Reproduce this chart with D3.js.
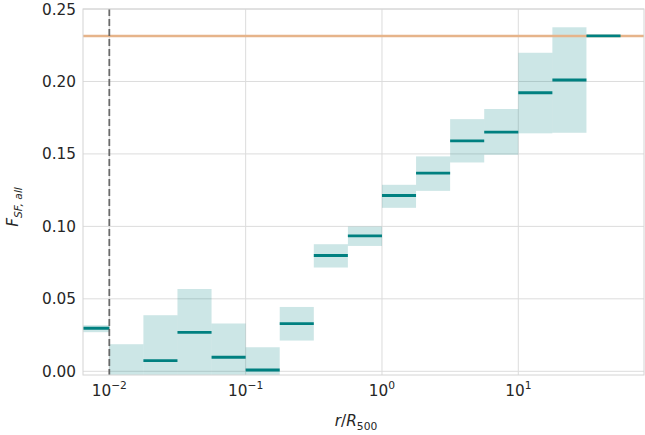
<!DOCTYPE html>
<html>
<head>
<meta charset="utf-8">
<script src="https://cdn.jsdelivr.net/npm/d3@7"></script>
<style>
  body { margin: 0; background: #fff; }
  text { font-family: "DejaVu Sans", sans-serif; fill: #262626; }
</style>
</head>
<body>
<div id="chart"></div>
<script>
// Bin edges in r/R500 (quarter-decade bins)
const binEdges = [0.005623, 0.01, 0.01778, 0.03162, 0.05623, 0.1, 0.1778, 0.3162,
                  0.5623, 1, 1.778, 3.162, 5.623, 10, 17.78, 31.62, 56.23];
// Median value per bin (null = no line drawn)
const medians = [0.0297, null, 0.0074, 0.0269, 0.0097, 0.0009, 0.0329, 0.0799, 0.0934,
                 0.1213, 0.1367, 0.159, 0.165, 0.1922, 0.201, 0.2314];
// Lower / upper bounds of the shaded band
const lowers = [0.027, -0.01, -0.01, -0.01, -0.01, -0.01, 0.0212, 0.0716, 0.0865,
                0.1128, 0.1245, 0.1441, 0.1494, 0.1642, 0.1646, 0.2314];
const uppers = [0.0318, 0.0187, 0.0387, 0.0568, 0.033, 0.0166, 0.0444, 0.0877, 0.0999,
                0.1287, 0.1483, 0.174, 0.181, 0.2198, 0.2374, 0.2314];
const referenceLevel = 0.2314;
const dashedX = 0.01;
const xTicks = [-2, -1, 0, 1];
const yTicks = [0, 0.05, 0.10, 0.15, 0.20, 0.25];

const width = 645, height = 435;
const margin = { top: 9, right: 1, bottom: 60, left: 83 };

const xScale = d3.scaleLog()
    .domain([Math.pow(10, -2.193), Math.pow(10, 1.922)])
    .range([margin.left, width - margin.right]);

const yScale = d3.scaleLinear()
    .domain([-0.00255, 0.25])
    .range([height - margin.bottom, margin.top]);

const svg = d3.select("#chart").append("svg")
    .attr("width", width)
    .attr("height", height);

svg.append("defs").append("clipPath").attr("id", "clip")
  .append("rect")
    .attr("x", margin.left).attr("y", margin.top)
    .attr("width", width - margin.left - margin.right)
    .attr("height", height - margin.top - margin.bottom);

// Grid lines
const grid = svg.append("g").attr("stroke", "#dcdcdc").attr("stroke-width", 1);
grid.selectAll(".gy").data(yTicks).join("line")
    .attr("x1", margin.left).attr("x2", width - margin.right)
    .attr("y1", d => yScale(d)).attr("y2", d => yScale(d));
grid.selectAll(".gx").data(xTicks).join("line")
    .attr("x1", d => xScale(Math.pow(10, d))).attr("x2", d => xScale(Math.pow(10, d)))
    .attr("y1", margin.top).attr("y2", height - margin.bottom);

const bins = medians.map((m, i) => ({
    x0: binEdges[i], x1: binEdges[i + 1], med: m, lo: lowers[i], hi: uppers[i]
}));

const plot = svg.append("g").attr("clip-path", "url(#clip)");

// Shaded bands
plot.selectAll(".band").data(bins.filter(d => d.hi > d.lo)).join("rect")
    .attr("x", d => xScale(d.x0))
    .attr("width", d => xScale(d.x1) - xScale(d.x0))
    .attr("y", d => yScale(d.hi))
    .attr("height", d => yScale(d.lo) - yScale(d.hi))
    .attr("fill", "rgba(0,128,128,0.2)");

// Reference level
plot.append("line")
    .attr("x1", margin.left).attr("x2", width - margin.right)
    .attr("y1", yScale(referenceLevel)).attr("y2", yScale(referenceLevel))
    .attr("stroke", "#e6b48a").attr("stroke-width", 2.4);

// Median lines
plot.selectAll(".med").data(bins.filter(d => d.med !== null)).join("line")
    .attr("x1", d => xScale(d.x0)).attr("x2", d => xScale(d.x1))
    .attr("y1", d => yScale(d.med)).attr("y2", d => yScale(d.med))
    .attr("stroke", "#008080").attr("stroke-width", 2.8);

// Dashed vertical line
plot.append("line")
    .attr("x1", xScale(dashedX)).attr("x2", xScale(dashedX))
    .attr("y1", margin.top).attr("y2", height - margin.bottom)
    .attr("stroke", "#555").attr("stroke-opacity", 0.85)
    .attr("stroke-width", 1.8).attr("stroke-dasharray", "7,3");

// Frame
svg.append("rect")
    .attr("x", margin.left).attr("y", margin.top)
    .attr("width", width - margin.left - margin.right)
    .attr("height", height - margin.top - margin.bottom)
    .attr("fill", "none").attr("stroke", "#d4d4d4").attr("stroke-width", 1);

// Y tick labels
svg.selectAll(".yl").data(yTicks).join("text")
    .attr("x", 76).attr("y", d => yScale(d)).attr("dy", "0.36em")
    .attr("text-anchor", "end").style("font-size", "15.3px")
    .text(d3.format(".2f"));

// X tick labels (10^n)
const xl = svg.selectAll(".xl").data(xTicks).join("text")
    .attr("x", d => xScale(Math.pow(10, d)))
    .attr("y", 396).attr("text-anchor", "middle").style("font-size", "15.3px");
xl.append("tspan").text("10");
xl.append("tspan").attr("dy", -7).style("font-size", "10.7px")
    .text(d => String(d).replace("-", "\u2212"));

// Axis labels
const xlab = svg.append("text").attr("x", 356).attr("y", 426)
    .attr("text-anchor", "middle").style("font-size", "15.3px");
xlab.append("tspan").style("font-style", "italic").text("r");
xlab.append("tspan").text("/");
xlab.append("tspan").style("font-style", "italic").text("R");
xlab.append("tspan").attr("dy", 4).style("font-size", "10.7px").text("500");

const ylab = svg.append("text")
    .attr("transform", "translate(18,207) rotate(-90)")
    .attr("text-anchor", "middle").style("font-size", "15.3px");
ylab.append("tspan").style("font-style", "italic").text("F");
ylab.append("tspan").attr("dy", 4).style("font-size", "10.7px")
    .style("font-style", "italic").text("SF, all");
</script>
</body>
</html>
